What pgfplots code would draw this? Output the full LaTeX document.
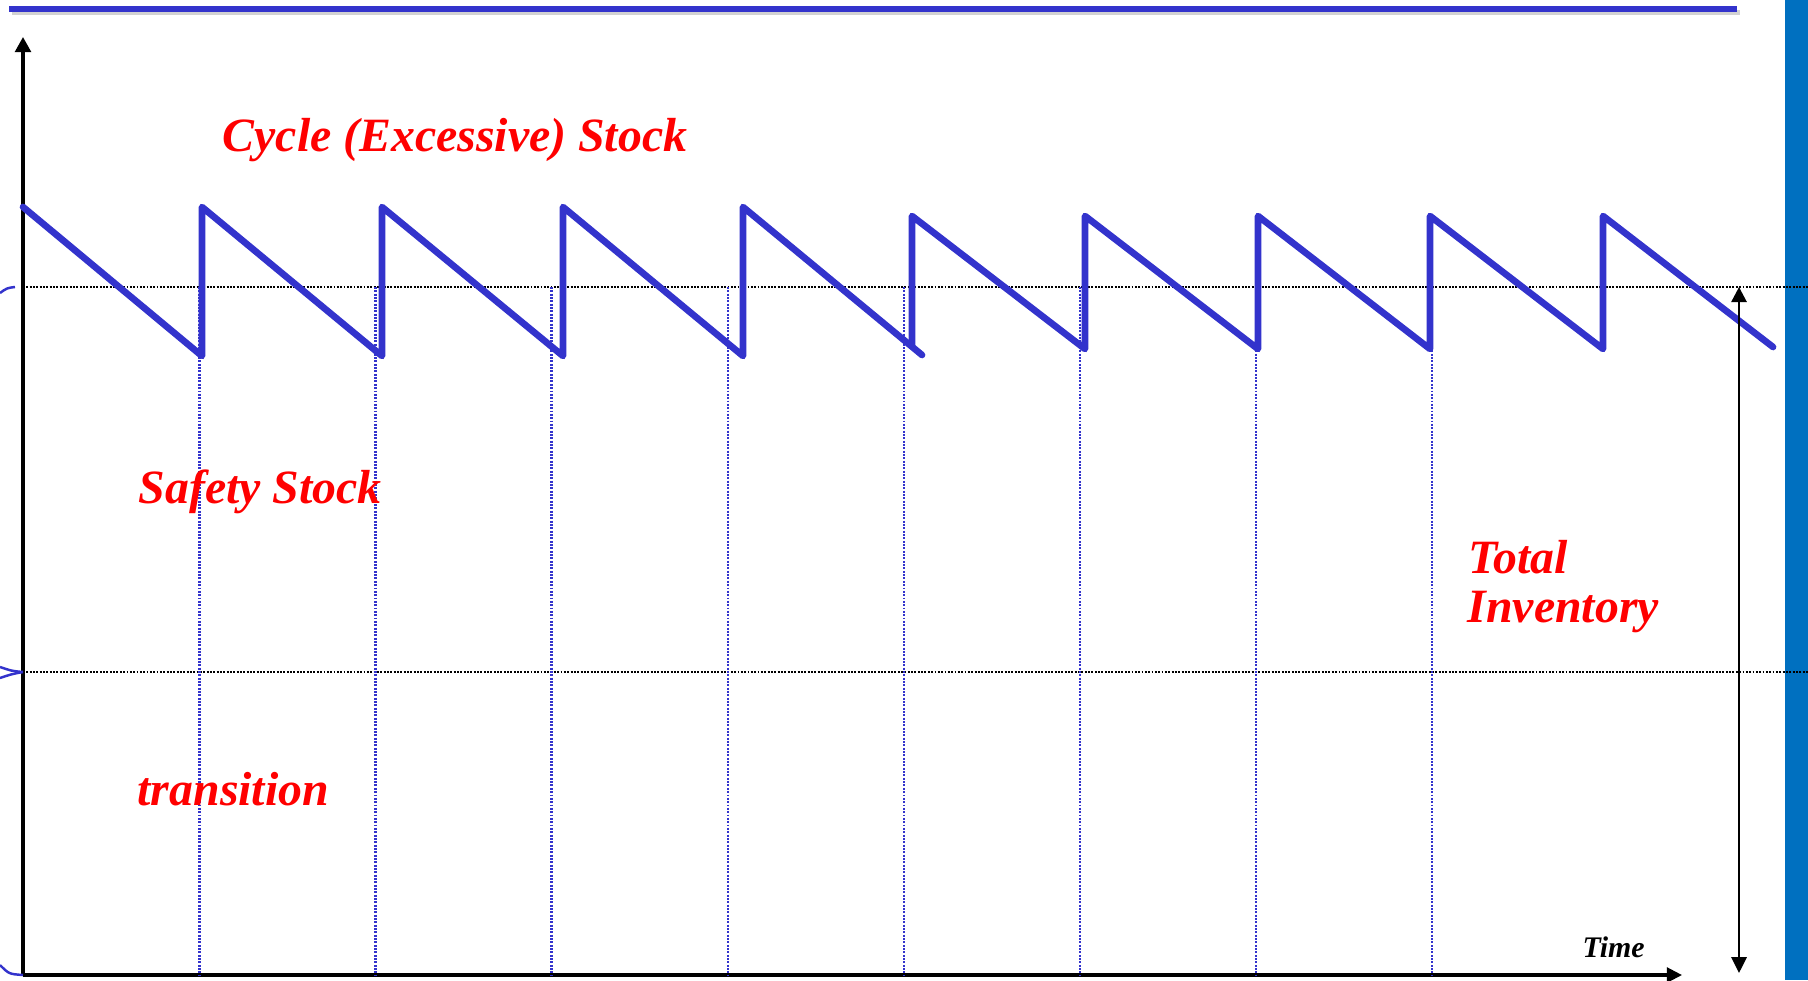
\documentclass[border=0pt]{standalone}
\usepackage{pgfplots}
\pgfplotsset{compat=1.18}
\usepackage{fontspec}
\setmainfont{Liberation Serif}
\usetikzlibrary{arrows.meta}
\definecolor{sawblue}{RGB}{51,51,204}
\definecolor{barblue}{RGB}{0,112,192}
\definecolor{txtred}{RGB}{255,0,0}
\begin{document}
\begin{tikzpicture}
\begin{axis}[
  scale only axis, width=16.59cm, height=9.38cm,
  xmin=23, xmax=1682, ymin=5, ymax=943,
  axis lines=left, xtick=\empty, ytick=\empty,
  axis line style={line width=0.9pt, black},
  x axis line style={-{Triangle[length=4.3pt,width=4.2pt]}},
  y axis line style={-{Triangle[length=4.3pt,width=4.5pt]}},
  clip=false, no markers,
]
\coordinate (BL) at (axis cs:0,0);
\coordinate (TR) at (axis cs:1808,980);
% right blue bar
\fill[barblue] (axis cs:1785,0) rectangle (axis cs:1808,980);
% top rule with shadow
\addplot[black!35, opacity=0.5, line width=1.6pt] coordinates {(12,967.5) (1740,967.5)};
\addplot[sawblue, line width=1.5pt] coordinates {(9,971) (1737,971)};
% horizontal dotted levels
\addplot[black, line width=0.7pt, dash pattern=on 0.55pt off 0.4pt] coordinates {(23,693) (1808,693)};
\addplot[black, line width=0.7pt, dash pattern=on 0.55pt off 0.4pt] coordinates {(23,308) (1808,308)};
% vertical dotted order lines
\addplot[sawblue, line width=0.7pt, dash pattern=on 0.55pt off 0.4pt] coordinates {(199.5,693) (199.5,5)};
\addplot[sawblue, line width=0.7pt, dash pattern=on 0.55pt off 0.4pt] coordinates {(375.6,693) (375.6,5)};
\addplot[sawblue, line width=0.7pt, dash pattern=on 0.55pt off 0.4pt] coordinates {(551.7,693) (551.7,5)};
\addplot[sawblue, line width=0.7pt, dash pattern=on 0.55pt off 0.4pt] coordinates {(727.8,693) (727.8,5)};
\addplot[sawblue, line width=0.7pt, dash pattern=on 0.55pt off 0.4pt] coordinates {(903.9,693) (903.9,5)};
\addplot[sawblue, line width=0.7pt, dash pattern=on 0.55pt off 0.4pt] coordinates {(1080,693) (1080,5)};
\addplot[sawblue, line width=0.7pt, dash pattern=on 0.55pt off 0.4pt] coordinates {(1256,693) (1256,5)};
\addplot[sawblue, line width=0.7pt, dash pattern=on 0.55pt off 0.4pt] coordinates {(1432,693) (1432,5)};
% sawtooth inventory
\addplot[sawblue, line width=1.9pt, line join=round, line cap=round] coordinates {
  (23,773) (202,624) (202,773) (382,624) (382,773) (563,624) (563,773)
  (743,624) (743,773) (922,625)};
\addplot[sawblue, line width=1.9pt, line join=round, line cap=round] coordinates {
  (912,634) (912,764) (1085,631) (1085,764) (1258,631) (1258,764)
  (1430,631) (1430,764) (1603,631) (1603,764) (1773,633)};
% brace fragments at left edge
\draw[sawblue, line width=0.7pt] (axis cs:0,687) .. controls (axis cs:7,692) .. (axis cs:15,693);
\draw[sawblue, line width=0.7pt] (axis cs:0,313) .. controls (axis cs:12,309) .. (axis cs:23,308);
\draw[sawblue, line width=0.7pt] (axis cs:0,302) .. controls (axis cs:12,306) .. (axis cs:23,308);
\draw[sawblue, line width=0.7pt] (axis cs:0,15) .. controls (axis cs:9,6) .. (axis cs:23,5);
% total inventory arrow
\draw[line width=0.75pt, {Triangle[length=4.3pt,width=4.3pt]}-{Triangle[length=4.5pt,width=4.3pt]}] (axis cs:1739,693) -- (axis cs:1739,7);
% labels
\node[anchor=base west, inner sep=0pt, text=txtred, font=\fontsize{13.6}{16}\selectfont\bfseries\itshape] at (axis cs:222,828) {Cycle (Excessive) Stock};
\node[anchor=base west, inner sep=0pt, text=txtred, font=\fontsize{13.6}{16}\selectfont\bfseries\itshape] at (axis cs:138,477) {Safety Stock};
\node[anchor=base west, inner sep=0pt, text=txtred, font=\fontsize{13.6}{16}\selectfont\bfseries\itshape] at (axis cs:137,175) {transition};
\node[anchor=base west, inner sep=0pt, text=txtred, font=\fontsize{13.6}{16}\selectfont\bfseries\itshape] at (axis cs:1468,407) {Total};
\node[anchor=base west, inner sep=0pt, text=txtred, font=\fontsize{13.6}{16}\selectfont\bfseries\itshape] at (axis cs:1467,358) {Inventory};
\node[anchor=base west, inner sep=0pt, text=black, font=\fontsize{8.5}{10}\selectfont\bfseries\itshape] at (axis cs:1582,23) {Time};
\end{axis}
\pgfresetboundingbox
\path (BL) rectangle (TR);
\end{tikzpicture}
\end{document}
